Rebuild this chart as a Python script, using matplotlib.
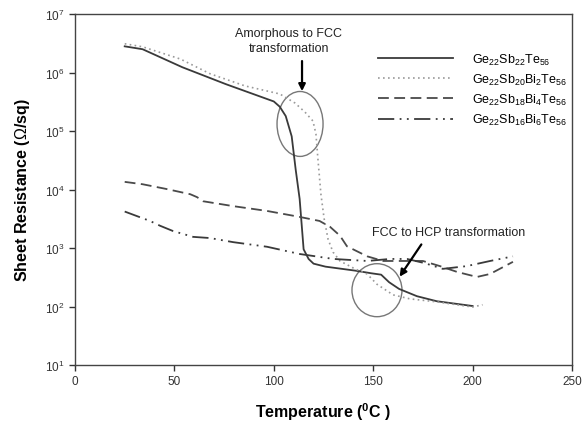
import matplotlib
matplotlib.use("Agg")
import matplotlib.pyplot as plt
from matplotlib.patches import Ellipse
import numpy as np

plt.rcParams['font.family'] = ['Liberation Sans', 'DejaVu Sans']
plt.rcParams['mathtext.fontset'] = 'custom'
plt.rcParams['mathtext.rm'] = 'Liberation Sans'
plt.rcParams['mathtext.it'] = 'Liberation Sans'
plt.rcParams['mathtext.bf'] = 'Liberation Sans:bold'

# ---- data ----
t_sb22 = [25, 34, 54, 76, 100, 103, 106, 109, 111, 113, 115, 117.5, 120, 126, 141, 149, 154, 158, 163, 172, 182, 200]
r_sb22 = [2.8e6, 2.5e6, 1.23e6, 6.3e5, 3.2e5, 2.6e5, 1.8e5, 8.1e4, 2.2e4, 6.9e3, 9.5e2, 6.5e2, 5.4e2, 4.8e2, 4.1e2, 3.7e2, 3.5e2, 2.6e2, 2.0e2, 1.5e2, 1.23e2, 1.02e2]

t_bi2 = [25, 34, 53, 68, 85.5, 103, 110.7, 115.7, 119.7, 121.2, 122.2, 123.7, 125.3, 127.3, 129.8, 133.3, 140.8, 146.9, 151.9, 160, 168.5, 182, 200, 205]
r_bi2 = [3.1e6, 2.75e6, 1.7e6, 9.5e5, 5.9e5, 4.3e5, 3.0e5, 2.1e5, 1.48e5, 8.9e4, 3.3e4, 8.3e3, 3.2e3, 1.41e3, 8.5e2, 6.0e2, 4.4e2, 3.6e2, 2.4e2, 1.58e2, 1.35e2, 1.2e2, 9.8e1, 1.07e2]

t_bi4 = [25, 34, 46, 58, 61.4, 64.4, 79.5, 96.6, 113, 123, 128.3, 133.3, 136.8, 147, 155, 163.5, 175, 183.6, 192.2, 202.2, 208.8, 220.3]
r_bi4 = [1.35e4, 1.23e4, 1.02e4, 8.3e3, 7.4e3, 6.3e3, 5.2e3, 4.3e3, 3.4e3, 2.9e3, 2.3e3, 1.62e3, 1.07e3, 7.2e2, 6.0e2, 6.0e2, 6.0e2, 4.9e2, 3.9e2, 3.2e2, 3.6e2, 5.8e2]

t_bi6 = [25, 37.7, 42.8, 49.3, 59.4, 67.9, 79.5, 96.6, 113, 130, 147, 158.5, 167, 176, 185, 197, 208.8, 220.3]
r_bi6 = [4.2e3, 2.9e3, 2.4e3, 1.95e3, 1.55e3, 1.48e3, 1.26e3, 1.05e3, 7.9e2, 6.5e2, 6.0e2, 6.5e2, 6.5e2, 5.5e2, 4.4e2, 4.9e2, 6.0e2, 7.2e2]

labels = [r'Ge$_{22}$Sb$_{22}$Te$_{56}$',
          r'Ge$_{22}$Sb$_{20}$Bi$_{2}$Te$_{56}$',
          r'Ge$_{22}$Sb$_{18}$Bi$_{4}$Te$_{56}$',
          r'Ge$_{22}$Sb$_{16}$Bi$_{6}$Te$_{56}$']

fig = plt.figure(figsize=(5.84, 4.27), dpi=100)
ax = fig.add_axes([75/584, 61/427, 497/584, 351/427])

ax.plot(t_sb22, r_sb22, color='#3a3a3a', lw=1.3, ls='-', label=labels[0])
ax.plot(t_bi2, r_bi2, color='#9a9a9a', lw=1.2, ls=(0, (1, 2)), label=labels[1])
ax.plot(t_bi4, r_bi4, color='#4a4a4a', lw=1.3, ls=(0, (6, 3)), label=labels[2])
ax.plot(t_bi6, r_bi6, color='#3a3a3a', lw=1.3, ls=(0, (9, 3, 1, 3, 1, 3)), label=labels[3])

ax.set_yscale('log')
ax.set_xlim(0, 250)
ax.set_ylim(1e1, 1e7)
ax.set_xticks([0, 50, 100, 150, 200, 250])
ax.set_yticks([1e1, 1e2, 1e3, 1e4, 1e5, 1e6, 1e7])
ax.minorticks_off()
ax.tick_params(axis='both', direction='out', length=4, width=1, colors='#333333', labelsize=8.5)
ax.tick_params(top=False, right=False)
for s in ax.spines.values():
    s.set_color('#444444')
    s.set_linewidth(1.0)

ax.set_xlabel(r'Temperature ($\mathbf{^{0}}$C )', fontsize=11.5, fontweight='bold', labelpad=9)
ax.set_ylabel(r'Sheet Resistance ($\Omega$/sq)', fontsize=11.5, fontweight='bold', labelpad=9)

leg = ax.legend(loc='upper left', bbox_to_anchor=(0.588, 0.925), frameon=False, fontsize=9,
                handlelength=6.0, handletextpad=1.5, labelspacing=0.4)

# annotations
def to_axes(x, y):
    return ax.transLimits.transform(ax.transScale.transform((x, y)))

c1 = to_axes(113.2, 1.32e5)
ax.add_patch(Ellipse(c1, 0.0926, 0.185, transform=ax.transAxes, fill=False, ec='#777777', lw=1.0))
c2 = to_axes(151.9, 1.9e2)
ax.add_patch(Ellipse(c2, 0.1006, 0.151, transform=ax.transAxes, fill=False, ec='#777777', lw=1.0))

ax.text(107.6, 3.5e6, 'Amorphous to FCC\ntransformation', ha='center', va='center',
        fontsize=9, color='#222222', multialignment='center', linespacing=1.35)
ax.annotate('', xy=(114.2, 4.3e5), xytext=(114.2, 1.75e6),
            arrowprops=dict(arrowstyle='-|>', color='black', lw=1.6, mutation_scale=10))

ax.text(188, 1.86e3, 'FCC to HCP transformation', ha='center', va='center',
        fontsize=9, color='#222222')
ax.annotate('', xy=(162.5, 2.95e2), xytext=(175, 1.26e3),
            arrowprops=dict(arrowstyle='-|>', color='black', lw=1.6, mutation_scale=10))

fig.savefig('out.png', dpi=100)
